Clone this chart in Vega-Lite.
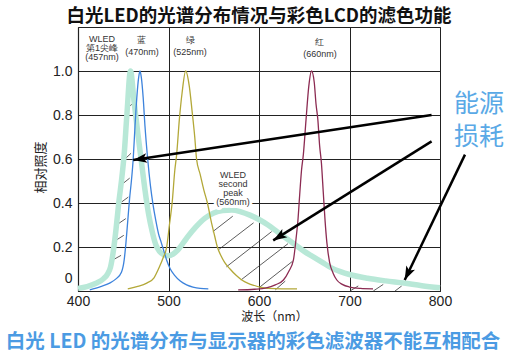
{
  "$schema": "https://vega.github.io/schema/vega-lite/v6.json",
  "width": 362,
  "height": 264,
  "autosize": "none",
  "padding": {"left": 78, "top": 27, "right": 66, "bottom": 62},
  "background": "white",
  "config": {"view": {"stroke": "#222", "strokeWidth": 1}, "font": "Liberation Sans"},
  "title": {"text": "白光LED的光谱分布情况与彩色LCD的滤色功能", "font": "Noto Sans CJK SC", "fontSize": 18.5, "fontWeight": "bold", "color": "#111", "anchor": "middle", "frame": "group", "offset": 2},
  "datasets": {
    "wled": [
      {"x": 400, "y": 0.012}, {"x": 410, "y": 0.02}, {"x": 420, "y": 0.035}, {"x": 428, "y": 0.055}, {"x": 433, "y": 0.08}, {"x": 436, "y": 0.11}, {"x": 439, "y": 0.18}, {"x": 442, "y": 0.28}, {"x": 445, "y": 0.4}, {"x": 448, "y": 0.5}, {"x": 451, "y": 0.62}, {"x": 454, "y": 0.8}, {"x": 458, "y": 1.0}, {"x": 462, "y": 0.86}, {"x": 466, "y": 0.72}, {"x": 470, "y": 0.59}, {"x": 474, "y": 0.46}, {"x": 478, "y": 0.35}, {"x": 482, "y": 0.27}, {"x": 486, "y": 0.21}, {"x": 490, "y": 0.18}, {"x": 495, "y": 0.165}, {"x": 500, "y": 0.16}, {"x": 505, "y": 0.168}, {"x": 510, "y": 0.185}, {"x": 520, "y": 0.24}, {"x": 530, "y": 0.29}, {"x": 540, "y": 0.33}, {"x": 550, "y": 0.355}, {"x": 560, "y": 0.366}, {"x": 570, "y": 0.368}, {"x": 580, "y": 0.36}, {"x": 590, "y": 0.345}, {"x": 600, "y": 0.325}, {"x": 610, "y": 0.3}, {"x": 620, "y": 0.27}, {"x": 630, "y": 0.24}, {"x": 640, "y": 0.21}, {"x": 650, "y": 0.18}, {"x": 660, "y": 0.155}, {"x": 670, "y": 0.13}, {"x": 680, "y": 0.105}, {"x": 690, "y": 0.088}, {"x": 700, "y": 0.075}, {"x": 720, "y": 0.058}, {"x": 740, "y": 0.046}, {"x": 760, "y": 0.036}, {"x": 780, "y": 0.024}, {"x": 800, "y": 0.015}
    ],
    "blue": [
      {"x": 413, "y": 0.005}, {"x": 425, "y": 0.02}, {"x": 435, "y": 0.036}, {"x": 442, "y": 0.055}, {"x": 448, "y": 0.085}, {"x": 451, "y": 0.14}, {"x": 453, "y": 0.22}, {"x": 455, "y": 0.32}, {"x": 457, "y": 0.42}, {"x": 459, "y": 0.5}, {"x": 461, "y": 0.6}, {"x": 463, "y": 0.75}, {"x": 465, "y": 0.88}, {"x": 467, "y": 0.97}, {"x": 468.5, "y": 1.0}, {"x": 470, "y": 0.97}, {"x": 472, "y": 0.88}, {"x": 474, "y": 0.75}, {"x": 477, "y": 0.6}, {"x": 480, "y": 0.48}, {"x": 483, "y": 0.39}, {"x": 486, "y": 0.32}, {"x": 489, "y": 0.26}, {"x": 492, "y": 0.22}, {"x": 495, "y": 0.18}, {"x": 498, "y": 0.14}, {"x": 502, "y": 0.1}, {"x": 507, "y": 0.07}, {"x": 513, "y": 0.045}, {"x": 520, "y": 0.028}, {"x": 527, "y": 0.018}, {"x": 535, "y": 0.012}, {"x": 544, "y": 0.01}
    ],
    "green": [
      {"x": 455, "y": 0.01}, {"x": 465, "y": 0.02}, {"x": 476, "y": 0.036}, {"x": 484, "y": 0.06}, {"x": 490, "y": 0.11}, {"x": 494, "y": 0.15}, {"x": 498, "y": 0.2}, {"x": 501, "y": 0.3}, {"x": 504, "y": 0.4}, {"x": 507, "y": 0.55}, {"x": 509, "y": 0.62}, {"x": 512, "y": 0.78}, {"x": 515, "y": 0.9}, {"x": 519, "y": 1.0}, {"x": 523, "y": 0.93}, {"x": 526, "y": 0.82}, {"x": 529, "y": 0.7}, {"x": 531, "y": 0.6}, {"x": 535, "y": 0.53}, {"x": 539, "y": 0.46}, {"x": 543, "y": 0.4}, {"x": 547, "y": 0.32}, {"x": 551, "y": 0.25}, {"x": 554, "y": 0.2}, {"x": 558, "y": 0.16}, {"x": 562, "y": 0.13}, {"x": 568, "y": 0.1}, {"x": 575, "y": 0.07}, {"x": 581, "y": 0.05}, {"x": 588, "y": 0.035}, {"x": 595, "y": 0.025}, {"x": 601, "y": 0.018}, {"x": 610, "y": 0.012}, {"x": 625, "y": 0.01}, {"x": 642, "y": 0.01}
    ],
    "red": [
      {"x": 577, "y": 0.005}, {"x": 595, "y": 0.008}, {"x": 608, "y": 0.014}, {"x": 618, "y": 0.028}, {"x": 627, "y": 0.05}, {"x": 633, "y": 0.09}, {"x": 638, "y": 0.14}, {"x": 641, "y": 0.24}, {"x": 643, "y": 0.32}, {"x": 645, "y": 0.44}, {"x": 647, "y": 0.55}, {"x": 649, "y": 0.62}, {"x": 652, "y": 0.78}, {"x": 655, "y": 0.93}, {"x": 658, "y": 1.0}, {"x": 661, "y": 0.95}, {"x": 663, "y": 0.85}, {"x": 665, "y": 0.78}, {"x": 667, "y": 0.66}, {"x": 669, "y": 0.58}, {"x": 671, "y": 0.45}, {"x": 673, "y": 0.32}, {"x": 675, "y": 0.22}, {"x": 678, "y": 0.13}, {"x": 682, "y": 0.08}, {"x": 686, "y": 0.05}, {"x": 692, "y": 0.03}, {"x": 700, "y": 0.018}, {"x": 712, "y": 0.012}, {"x": 726, "y": 0.01}
    ],
    "hatch": [
      {"x": 455.6, "y": 0.836, "x2": 462.2, "y2": 0.857},
      {"x": 452.7, "y": 0.603, "x2": 458.6, "y2": 0.626},
      {"x": 450.1, "y": 0.49, "x2": 457.1, "y2": 0.513},
      {"x": 448.3, "y": 0.405, "x2": 455.6, "y2": 0.427},
      {"x": 444.6, "y": 0.306, "x2": 452.8, "y2": 0.329},
      {"x": 441.7, "y": 0.23, "x2": 450.6, "y2": 0.253},
      {"x": 438, "y": 0.14, "x2": 447.6, "y2": 0.162},
      {"x": 549, "y": 0.27, "x2": 571, "y2": 0.34},
      {"x": 556, "y": 0.19, "x2": 594, "y2": 0.31},
      {"x": 564, "y": 0.11, "x2": 614, "y2": 0.27},
      {"x": 580, "y": 0.05, "x2": 632, "y2": 0.215},
      {"x": 600, "y": 0.015, "x2": 637, "y2": 0.135},
      {"x": 618, "y": 0.005, "x2": 629, "y2": 0.045},
      {"x": 700.6, "y": 0.0, "x2": 709.7, "y2": 0.023},
      {"x": 726.3, "y": 0.0, "x2": 737.3, "y2": 0.03},
      {"x": 750.3, "y": 0.0, "x2": 757.7, "y2": 0.023}
    ],
    "arrows": [
      {"id": "a1", "x": 790.7, "y": 0.8, "x2": 461, "y2": 0.595},
      {"id": "a2", "x": 790.7, "y": 0.68, "x2": 615.7, "y2": 0.23},
      {"id": "a3", "x": 827.6, "y": 0.62, "x2": 761, "y2": 0.05}
    ],
    "tips": [
      {"id": "a1", "x": 461, "y": 0.595},
      {"id": "a2", "x": 615.7, "y": 0.23},
      {"id": "a3", "x": 761, "y": 0.05}
    ],
    "labels": [
      {"x": 426.5, "y": 1.145, "t": "WLED"},
      {"x": 426.5, "y": 1.106, "t": "第1尖峰"},
      {"x": 426.5, "y": 1.065, "t": "(457nm)"},
      {"x": 470.7, "y": 1.141, "t": "蓝"},
      {"x": 470.7, "y": 1.088, "t": "(470nm)"},
      {"x": 523.8, "y": 1.141, "t": "绿"},
      {"x": 523.8, "y": 1.088, "t": "(525nm)"},
      {"x": 667.4, "y": 1.13, "t": "红"},
      {"x": 667.4, "y": 1.077, "t": "(660nm)"},
      {"x": 571.3, "y": 0.527, "t": "WLED"},
      {"x": 571.3, "y": 0.486, "t": "second"},
      {"x": 571.3, "y": 0.445, "t": "peak"},
      {"x": 571.3, "y": 0.404, "t": "(560nm)"}
    ],
    "big": [
      {"x": 843, "y": 0.85, "t": "能源"},
      {"x": 843, "y": 0.7, "t": "损耗"}
    ],
    "caption": [
      {"x": 593.4, "y": -0.232, "t": "白光 LED 的光谱分布与显示器的彩色滤波器不能互相配合"}
    ]
  },
  "encoding": {
    "x": {
      "field": "x", "type": "quantitative",
      "scale": {"domain": [400, 800], "nice": false, "zero": false},
      "axis": {
        "values": [400, 500, 600, 700, 800], "title": "波长（nm）",
        "titleFont": "Noto Sans CJK SC", "titleFontSize": 12, "titleFontWeight": "normal", "titleColor": "#222",
        "titlePadding": 3.5, "titleX": 196,
        "labelFont": "Liberation Sans", "labelFontSize": 14, "labelColor": "#222", "labelPadding": 3, "labelFlush": false,
        "ticks": false, "grid": true, "gridColor": "#222", "gridOpacity": 1, "gridWidth": 1,
        "domainColor": "#222", "domainWidth": 1.2
      }
    },
    "y": {
      "field": "y", "type": "quantitative",
      "scale": {"domain": [0, 1.2], "nice": false, "zero": false},
      "axis": {
        "values": [0, 0.2, 0.4, 0.6, 0.8, 1], "labelExpr": "datum.value == 0 ? '0' : format(datum.value, '.1f')",
        "title": "相对照度", "titleFont": "Noto Sans CJK SC", "titleFontSize": 13, "titleFontWeight": "normal", "titleColor": "#222",
        "titlePadding": 5, "titleY": 140,
        "labelFont": "Liberation Sans", "labelFontSize": 14, "labelColor": "#222", "labelPadding": 6,
        "labelOffset": {"condition": {"test": "datum.value == 0", "value": -13}, "value": 0},
        "ticks": false, "grid": true, "gridColor": "#222", "gridOpacity": 1, "gridWidth": 1,
        "domainColor": "#222", "domainWidth": 1.2
      }
    }
  },
  "layer": [
    {"data": {"name": "hatch"}, "mark": {"type": "rule", "color": "#333", "strokeWidth": 0.8},
     "encoding": {"x2": {"field": "x2"}, "y2": {"field": "y2"}}},
    {"data": {"name": "wled"}, "mark": {"type": "line", "color": "#b8e8d7", "strokeWidth": 5.5, "interpolate": "monotone"}, "encoding": {}},
    {"data": {"name": "blue"}, "mark": {"type": "line", "color": "#3d83dc", "strokeWidth": 1.3, "interpolate": "monotone"}, "encoding": {}},
    {"data": {"name": "green"}, "mark": {"type": "line", "color": "#b3a838", "strokeWidth": 1.3, "interpolate": "monotone"}, "encoding": {}},
    {"data": {"name": "red"}, "mark": {"type": "line", "color": "#8c2b52", "strokeWidth": 1.3, "interpolate": "monotone"}, "encoding": {}},
    {"data": {"name": "arrows"}, "mark": {"type": "rule", "color": "#000", "strokeWidth": 2.5},
     "encoding": {"x2": {"field": "x2"}, "y2": {"field": "y2"}}},
    {"data": {"name": "tips"}, "transform": [{"filter": "datum.id == 'a1'"}],
     "mark": {"type": "point", "shape": "M0,0L-0.6,1.7L0,1.3L0.6,1.7Z", "size": 260, "filled": true, "color": "#000", "opacity": 1, "angle": 261.4}},
    {"data": {"name": "tips"}, "transform": [{"filter": "datum.id == 'a2'"}],
     "mark": {"type": "point", "shape": "M0,0L-0.6,1.7L0,1.3L0.6,1.7Z", "size": 260, "filled": true, "color": "#000", "opacity": 1, "angle": 238.2}},
    {"data": {"name": "tips"}, "transform": [{"filter": "datum.id == 'a3'"}],
     "mark": {"type": "point", "shape": "M0,0L-0.6,1.7L0,1.3L0.6,1.7Z", "size": 260, "filled": true, "color": "#000", "opacity": 1, "angle": 205.7}},
    {"data": {"name": "labels"}, "mark": {"type": "text", "font": "Liberation Sans", "fontSize": 9, "stroke": "white", "strokeWidth": 6, "strokeJoin": "round", "color": "white", "baseline": "middle"},
     "encoding": {"text": {"field": "t"}}},
    {"data": {"name": "labels"}, "mark": {"type": "text", "font": "Liberation Sans", "fontSize": 9, "color": "#333", "baseline": "middle"},
     "encoding": {"text": {"field": "t"}}},
    {"data": {"name": "big"}, "mark": {"type": "text", "font": "Noto Sans CJK SC", "fontSize": 25, "color": "#5aa9e6", "baseline": "middle"},
     "encoding": {"text": {"field": "t"}}},
    {"data": {"name": "caption"}, "mark": {"type": "text", "font": "Noto Sans CJK SC", "fontSize": 19.5, "fontWeight": "bold", "color": "#4b9be3", "baseline": "middle"},
     "encoding": {"text": {"field": "t"}}}
  ]
}
